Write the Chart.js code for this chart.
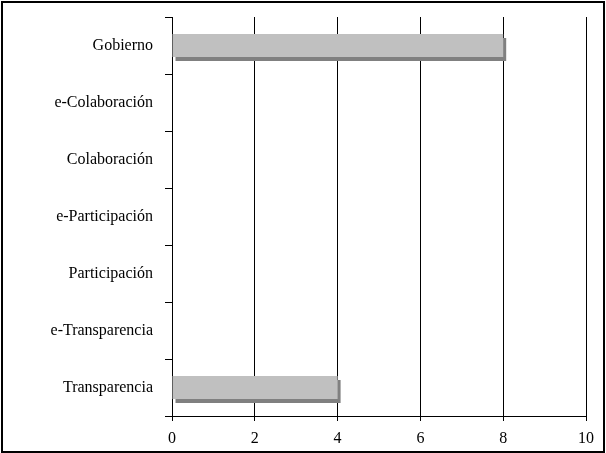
<!DOCTYPE html>
<html lang="es">
<head>
    <meta charset="UTF-8">
    <title>Gobierno</title>
    <script src="https://cdn.jsdelivr.net/npm/chart.js@4/dist/chart.umd.min.js"></script>
    <style>
        body { margin: 0; background: #fff; }
        #wrap { width: 606px; height: 453px; position: relative; }
    </style>
</head>
<body>
<div id="wrap"><canvas id="my-bar-chart"></canvas></div>

<script>
    const categories = ['Gobierno', 'e-Colaboración', 'Colaboración', 'e-Participación',
                        'Participación', 'e-Transparencia', 'Transparencia'];
    const values = [8, 0, 0, 0, 0, 0, 4];
    const xTicks = [0, 2, 4, 6, 8, 10];

    const font = {family: "'Liberation Serif', 'Times New Roman', serif", size: 16};

    // grey shadow under each bar, offset down-right
    const barShadow = {
        id: 'barShadow',
        beforeDatasetsDraw(chart) {
            const ctx = chart.ctx;
            ctx.save();
            ctx.shadowColor = '#808080';
            ctx.shadowOffsetX = 3;
            ctx.shadowOffsetY = 4;
            ctx.shadowBlur = 0;
        },
        afterDatasetsDraw(chart) {
            chart.ctx.restore();
        }
    };

    const frame = {
        id: 'frame',
        afterDraw(chart) {
            const ctx = chart.ctx;
            ctx.save();
            ctx.strokeStyle = '#000';
            ctx.lineWidth = 2;
            ctx.strokeRect(2, 2, chart.width - 4, chart.height - 3);
            ctx.restore();
        }
    };

    new Chart('my-bar-chart', {
        type: 'bar',
        data: {
            labels: categories,
            datasets: [{
                data: values,
                backgroundColor: '#c0c0c0',
                borderWidth: 0,
                barPercentage: 0.8,
                categoryPercentage: 0.5
            }]
        },
        plugins: [barShadow, frame],
        options: {
            indexAxis: 'y',
            responsive: true,
            maintainAspectRatio: false,
            animation: false,
            layout: {padding: {top: 17, right: 20, left: 0, bottom: 0}},
            plugins: {legend: {display: false}, tooltip: {enabled: false}},
            scales: {
                x: {
                    min: 0,
                    max: 10,
                    afterBuildTicks: axis => { axis.ticks = xTicks.map(v => ({value: v})); },
                    ticks: {color: '#000', font: font, padding: 8, maxRotation: 0},
                    grid: {color: '#000', lineWidth: 1, tickLength: 5},
                    border: {color: '#000', width: 1},
                    afterFit: axis => { axis.height = 37; }
                },
                y: {
                    ticks: {color: '#000', font: font, padding: 12},
                    grid: {color: '#000', lineWidth: 1, tickLength: 7, drawOnChartArea: false, offset: true},
                    border: {color: '#000', width: 1},
                    afterFit: axis => {
                        axis.width = 172;
                        axis.paddingTop = 0;
                        axis.paddingBottom = 0;
                    }
                }
            }
        }
    });
</script>

</body>
</html>
